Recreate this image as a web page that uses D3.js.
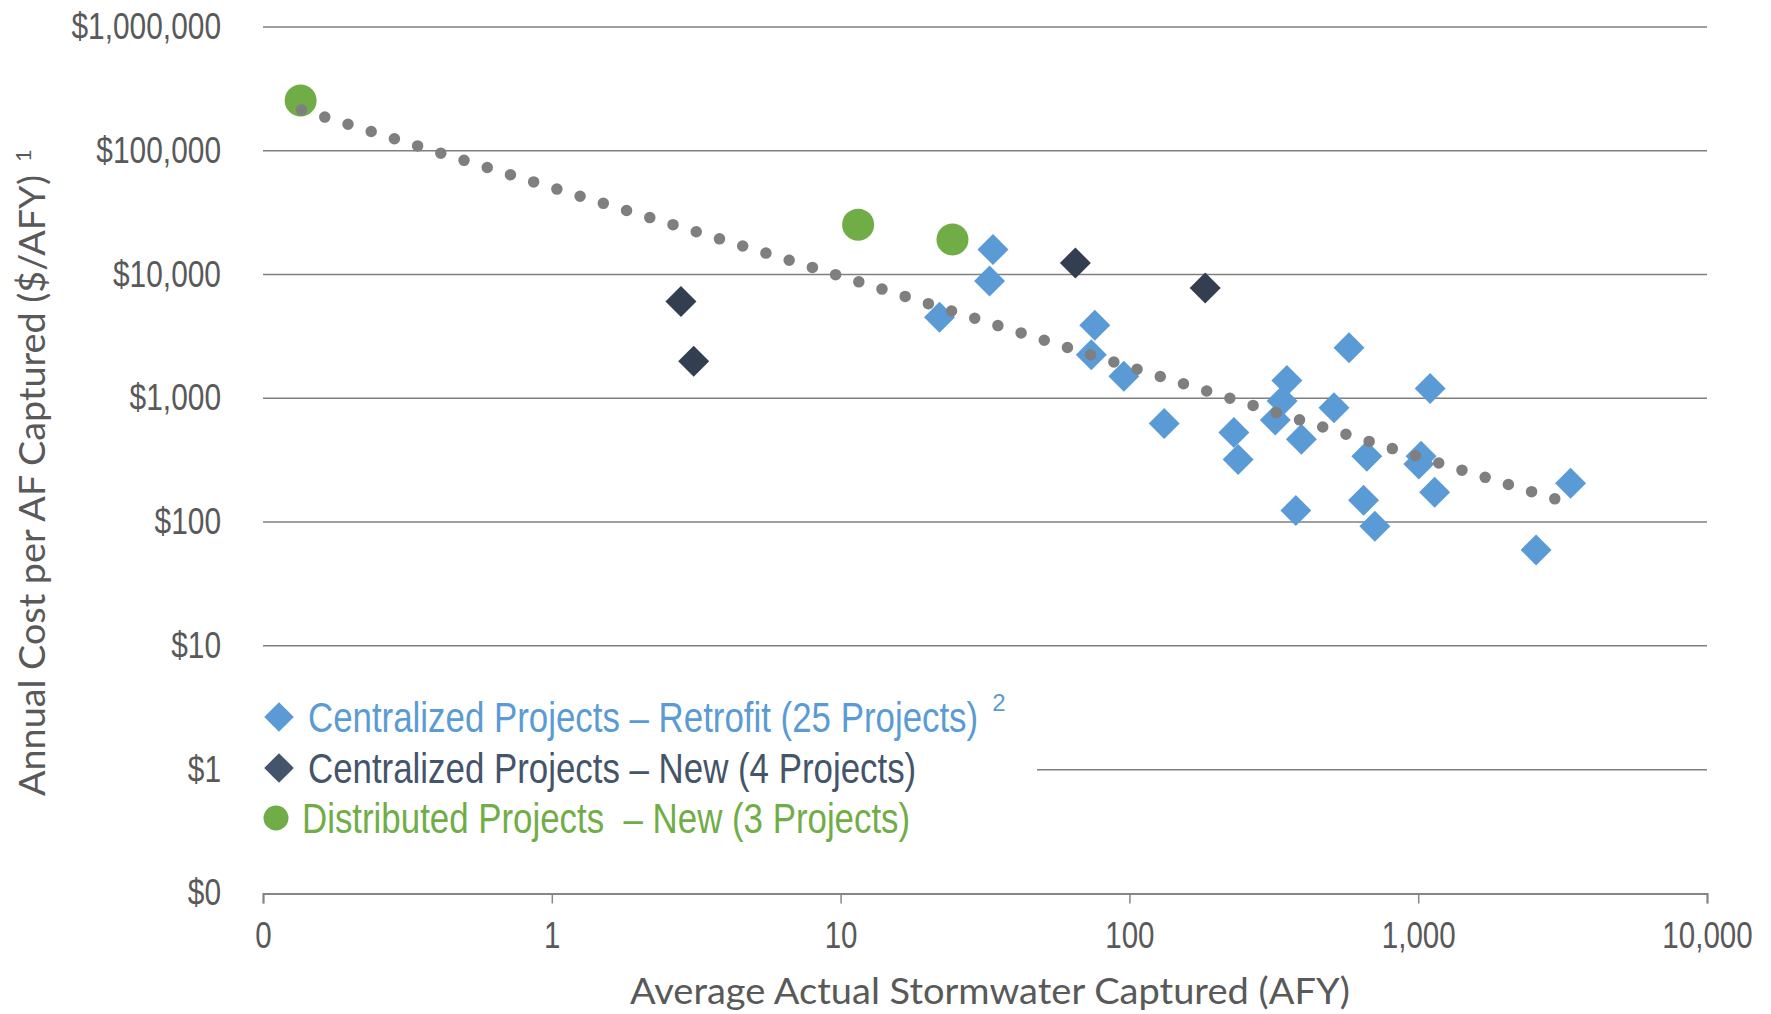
<!doctype html>
<html lang="en">
<head>
  <meta charset="utf-8">
  <title>Annual Cost per AF Captured</title>
  <style>
   body { margin: 0; background: #fff; }
   svg { display: block; }
   .grid line { stroke: #7f7f7f; stroke-width: 1.5; }
   .axis text { font-family: "Liberation Sans", Arial, sans-serif; font-size: 36px; fill: #595959; }
   .title { font-family: Lato, "Open Sans", sans-serif; fill: #595959; }
   .legend text { font-family: "Liberation Sans", Arial, sans-serif; font-size: 42.5px; white-space: pre; }
  </style>
</head>
<body>
<svg id="chart" width="1771" height="1014" xmlns="http://www.w3.org/2000/svg"></svg>
<script src="https://d3js.org/d3.v7.min.js"></script>
<script>
 // Centralized Projects - Retrofit (25)
 var retrofitX = [33.7, 32.8, 22.0, 75.9, 73.8, 95.7, 132, 230, 238, 351, 338, 320, 394,
                  377, 576, 511, 664, 647, 708, 1100, 1023, 1005, 1140, 3370, 2560];
 var retrofitY = [15900, 8850, 4520, 3900, 2250, 1510, 626, 530, 320, 1390, 953, 667, 467,
                  124, 2560, 840, 340, 150, 92.5, 1200, 340, 294, 174, 206, 59.6];

 // Centralized Projects - New (4)
 var newX = [2.8, 3.1, 65.0, 183];
 var newY = [6060, 1990, 12400, 7800];

 // Distributed Projects - New (3)
 var distX = [0.135, 11.5, 24.4];
 var distY = [255000, 25300, 19200];

 // trend line
 var trendX = [0.136, 1, 10, 66, 3055];
 var trendY = [214000, 50500, 9700, 2430, 151];

 var xTicks = [0.1, 1, 10, 100, 1000, 10000];
 var xTickLabels = ["0", "1", "10", "100", "1,000", "10,000"];
 var yTicks = [0.1, 1, 10, 100, 1000, 10000, 100000, 1000000];
 var yTickLabels = ["$0", "$1", "$10", "$100", "$1,000", "$10,000", "$100,000", "$1,000,000"];

 var legendLabels = ["Centralized Projects \u2013 Retrofit (25 Projects)",
                     "Centralized Projects \u2013 New (4 Projects)",
                     "Distributed Projects  \u2013 New (3 Projects)"];
 var legendColors = ["#5b9bd5", "#44546a", "#70ad47"];

 var blue = "#5b9bd5", navy = "#333f50", green = "#70ad47";

 var svg = d3.select("#chart");
 var plotLeft = 263, plotRight = 1707, plotTop = 27, plotBottom = 893.4;

 var x = d3.scaleLog().domain([0.1, 10000]).range([plotLeft, plotRight]);
 var y = d3.scaleLog().domain([0.1, 1000000]).range([plotBottom, plotTop]);

 // squeeze Liberation Sans down to an Arial Narrow width
 function narrow(sel, k) {
     sel.each(function() {
         var w = this.getComputedTextLength();
         d3.select(this).attr("textLength", w * k).attr("lengthAdjust", "spacingAndGlyphs");
     });
 }

 // gridlines
 svg.append("g")
    .attr("class", "grid")
    .selectAll("line")
    .data(yTicks.slice(1))
    .enter().append("line")
    .attr("x1", plotLeft).attr("x2", plotRight)
    .attr("y1", function(d) { return y(d); })
    .attr("y2", function(d) { return y(d); });

 // x axis
 var xAxis = d3.axisBottom(x)
               .tickValues(xTicks)
               .tickFormat(function(d, i) { return xTickLabels[i]; })
               .tickSize(10)
               .tickPadding(14);
 var gx = svg.append("g")
             .attr("class", "axis")
             .attr("transform", "translate(0," + plotBottom + ")")
             .call(xAxis);
 gx.select(".domain").attr("stroke", "#868686").attr("stroke-width", 2);
 gx.selectAll(".tick line").attr("stroke", "#868686").attr("stroke-width", 1.5);
 gx.selectAll(".tick text").attr("dy", "0.85em");
 narrow(gx.selectAll(".tick text"), 0.82);

 // y axis labels only
 var yAxis = d3.axisLeft(y)
               .tickValues(yTicks)
               .tickFormat(function(d, i) { return yTickLabels[i]; })
               .tickSize(0)
               .tickPadding(42);
 var gy = svg.append("g")
             .attr("class", "axis")
             .attr("transform", "translate(" + plotLeft + ",0)")
             .call(yAxis);
 gy.select(".domain").remove();
 narrow(gy.selectAll(".tick text"), 0.83);

 // axis titles
 svg.append("text")
    .attr("class", "title")
    .attr("x", 990).attr("y", 1004)
    .attr("text-anchor", "middle")
    .attr("font-size", 36)
    .attr("textLength", 720)
    .attr("lengthAdjust", "spacingAndGlyphs")
    .text("Average Actual Stormwater Captured (AFY)");

 var yt = svg.append("g").attr("transform", "translate(45,796) rotate(-90)");
 yt.append("text")
   .attr("class", "title")
   .attr("x", 0).attr("y", 0)
   .attr("font-size", 36)
   .attr("textLength", 621)
   .attr("lengthAdjust", "spacingAndGlyphs")
   .text("Annual Cost per AF Captured ($/AFY)");
 yt.append("text")
   .attr("class", "title")
   .attr("x", 634).attr("y", -14)
   .attr("font-size", 22)
   .text("1");

 var diamond = function(size) { return d3.symbol(d3.symbolSquare, size)(); };

 function drawDiamonds(xs, ys, color) {
     svg.append("g")
        .selectAll("path")
        .data(xs)
        .enter().append("path")
        .attr("d", diamond(480))
        .attr("fill", color)
        .attr("transform", function(d, i) {
            return "translate(" + x(d) + "," + y(ys[i]) + ") rotate(45)";
        });
 }

 drawDiamonds(retrofitX, retrofitY, blue);
 drawDiamonds(newX, newY, navy);

 svg.append("g")
    .selectAll("circle")
    .data(distX)
    .enter().append("circle")
    .attr("cx", function(d) { return x(d); })
    .attr("cy", function(d, i) { return y(distY[i]); })
    .attr("r", 16)
    .attr("fill", green);

 // dotted trend line
 var trendLine = d3.line()
                   .x(function(d) { return x(d); })
                   .y(function(d, i) { return y(trendY[i]); })
                   .curve(d3.curveMonotoneX);
 svg.append("path")
    .attr("d", trendLine(trendX))
    .attr("fill", "none")
    .attr("stroke", "#7f7f7f")
    .attr("stroke-width", 11.5)
    .attr("stroke-linecap", "round")
    .attr("stroke-dasharray", "0 24.3");

 // legend with white background over the $1 gridline
 var lg = svg.append("g").attr("class", "legend");
 lg.append("rect")
   .attr("x", plotLeft).attr("y", 690)
   .attr("width", 774).attr("height", 158)
   .attr("fill", "#fff");

 var rowY = [717, 768, 818];
 legendLabels.forEach(function(label, i) {
     var cx = 279, cy = rowY[i];
     if (i < 2) {
         lg.append("path")
           .attr("d", diamond(440))
           .attr("fill", legendColors[i])
           .attr("transform", "translate(" + cx + "," + cy + ") rotate(45)");
     } else {
         lg.append("circle")
           .attr("cx", cx - 3).attr("cy", cy)
           .attr("r", 12.5)
           .attr("fill", legendColors[i]);
     }
     var t = lg.append("text")
               .attr("x", i < 2 ? 308 : 302)
               .attr("y", cy + 15)
               .attr("fill", legendColors[i])
               .text(label);
     narrow(t, 0.82);
     if (i == 0) {
         lg.append("text")
           .attr("x", 308 + t.attr("textLength") * 1 + 14)
           .attr("y", cy - 6)
           .attr("fill", legendColors[i])
           .style("font-size", "24px")
           .text("2");
     }
 });
</script>
</body>
</html>
